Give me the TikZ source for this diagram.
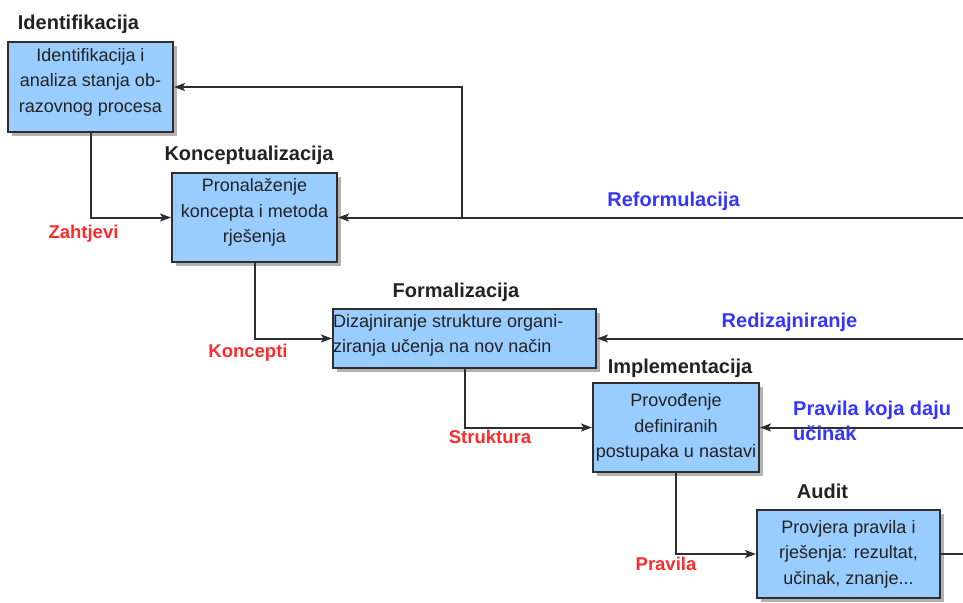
\documentclass[tikz,border=0pt]{standalone}
\usepackage{fontspec}
\setmainfont{Liberation Sans}
\usetikzlibrary{shadows,arrows.meta}

\definecolor{boxfill}{HTML}{99CCFF}
\definecolor{edgegray}{HTML}{2E2E2E}
\definecolor{inkdark}{HTML}{222222}
\definecolor{lblred}{HTML}{FF2B2B}
\definecolor{lblblue}{HTML}{3535FF}

\begin{document}
\begin{tikzpicture}[x=1pt,y=-1pt,
  stage/.style={draw=edgegray, line width=2pt, fill=boxfill, inner sep=0pt,
    drop shadow={shadow xshift=4pt, shadow yshift=-4pt, fill=black!60, opacity=0.5}},
  stagetext/.style={inner sep=0pt, align=center, text=inkdark,
    font=\fontsize{18}{25.5}\selectfont},
  phase/.style={inner sep=0pt, anchor=base, text=inkdark,
    font=\bfseries\fontsize{20}{24}\selectfont},
  flowlbl/.style={inner sep=0pt, anchor=base, text=lblred,
    font=\bfseries\fontsize{18.5}{22}\selectfont},
  backlbl/.style={inner sep=0pt, text=lblblue, align=left,
    font=\bfseries\fontsize{20}{25}\selectfont},
  wire/.style={draw=edgegray, line width=2pt},
  link/.style={wire, -{Stealth[length=11pt, width=8pt, inset=2.5pt]}}]

\useasboundingbox (0,0) rectangle (963,602);

% process stages
\node[stage, minimum width=165pt, minimum height=90pt] (ident) at (90.5,87) {};
\node[stagetext] (identtext) at ([yshift=5pt]ident.center)
  {Identifikacija i\\analiza stanja ob-\\razovnog procesa};

\node[stage, minimum width=165pt, minimum height=89pt] (konz) at (254.5,217.5) {};
\node[stagetext] (konztext) at ([yshift=5pt]konz.center)
  {Pronalaženje\\koncepta i metoda\\rješenja};

\node[stage, minimum width=263pt, minimum height=59pt] (form) at (464.5,338.5) {};
\node[stagetext, align=left, anchor=west] (formtext) at ([xshift=1pt, yshift=3pt]form.west)
  {Dizajniranje strukture organi-\\ziranja učenja na nov način};

\node[stage, minimum width=166pt, minimum height=89pt] (impl) at (676,427.5) {};
\node[stagetext] (impltext) at (impl.center)
  {Provođenje\\definiranih\\postupaka u nastavi};

\node[stage, minimum width=183pt, minimum height=88pt] (audit) at (848.5,554) {};
\node[stagetext] (audittext) at (audit.center)
  {Provjera pravila i\\rješenja: rezultat,\\učinak, znanje...};

% stage titles
\node[phase] (identtitle) at (78.5,30) {Identifikacija};
\node[phase] (konztitle) at (249,160) {Konceptualizacija};
\node[phase] (formtitle) at (456,297) {Formalizacija};
\node[phase] (impltitle) at (680,373) {Implementacija};
\node[phase] (audittitle) at (822.5,498) {Audit};

% forward flow
\draw[link] (ident.south) |- (konz.west);
\draw[link] (konz.south) |- (form.west);
\draw[link] (form.south) |- (impl.west);
\draw[link] (impl.south) |- (audit.west);

\node[flowlbl] (zahtjevi) at (83.5,238) {Zahtjevi};
\node[flowlbl] (koncepti) at (248,357) {Koncepti};
\node[flowlbl] (struktura) at (490,443) {Struktura};
\node[flowlbl] (pravila) at (666,570) {Pravila};

% feedback loops entering from the right
\coordinate (refin) at (963,217.5);
\coordinate (refjoin) at (462,217.5);
\coordinate (redin) at (963,338.5);
\coordinate (pravin) at (963,427.5);
\coordinate (auditout) at (963,554);

\draw[link] (refin) -- (konz.east);
\draw[link] (refjoin) |- (ident.east);
\draw[link] (redin) -- (form.east);
\draw[link] (pravin) -- (impl.east);
\draw[wire] (audit.east) -- (auditout);

\node[backlbl, anchor=base] (reform) at (673.5,206) {Reformulacija};
\node[backlbl, anchor=base] (redizajn) at (789.5,327) {Redizajniranje};
\node[backlbl, anchor=north west] (ucinak) at (793,400.5) {Pravila koja daju\\učinak};

\end{tikzpicture}
\end{document}
